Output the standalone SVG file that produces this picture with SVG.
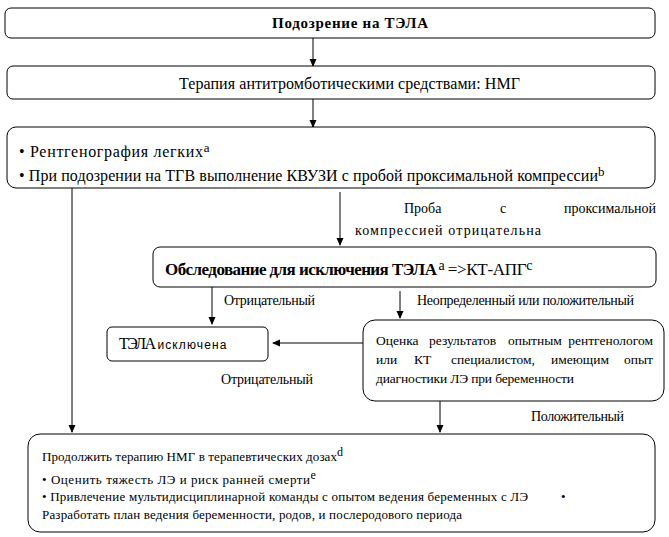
<svg xmlns="http://www.w3.org/2000/svg" width="669" height="537" viewBox="0 0 669 537">
<style>
.b{fill:#fff;stroke:#000;stroke-width:1}
.c{stroke:#000;stroke-width:1;fill:none}
</style>
<defs>
<marker id="ah" markerWidth="8" markerHeight="8" refX="7" refY="4" orient="auto" markerUnits="userSpaceOnUse">
<path d="M0,0.5 L8,4 L0,7.5 Z" fill="#000"/>
</marker>
</defs>
<rect width="669" height="537" fill="#fff"/>
<g id="connectors">
<line class="c" x1="313" y1="38" x2="313" y2="66" marker-end="url(#ah)"/>
<line class="c" x1="313" y1="99" x2="313" y2="127" marker-end="url(#ah)"/>
<line class="c" x1="72" y1="188" x2="72" y2="432" marker-end="url(#ah)"/>
<line class="c" x1="340" y1="192" x2="340" y2="245" marker-end="url(#ah)"/>
<line class="c" x1="212" y1="287" x2="212" y2="324" marker-end="url(#ah)"/>
<line class="c" x1="400" y1="291" x2="400" y2="318" marker-end="url(#ah)"/>
<line class="c" x1="363" y1="343" x2="273" y2="343" marker-end="url(#ah)"/>
<line class="c" x1="440" y1="401" x2="440" y2="432" marker-end="url(#ah)"/>
<g font-family="Liberation Serif" font-size="14" fill="#000">
<text><tspan x="404" y="213">Проба</tspan><tspan x="500" y="213">с</tspan><tspan x="656" y="213" text-anchor="end">проксимальной</tspan></text>
<text x="355" y="235" textLength="186">компрессией отрицательна</text>
<text x="224" y="305" textLength="91">Отрицательный</text>
<text x="417" y="305" textLength="217">Неопределенный или положительный</text>
<text x="221" y="384" textLength="92">Отрицательный</text>
<text x="531" y="421" textLength="93">Положительный</text>
</g>
</g>
<g id="n1">
<rect class="b" x="5" y="8" width="650" height="30" rx="6"/>
<text font-family="Liberation Serif" font-size="15" font-weight="bold" x="272" y="28" textLength="156">Подозрение на ТЭЛА</text>
</g>
<g id="n2">
<rect class="b" x="7" y="66" width="648" height="33" rx="6"/>
<text font-family="Liberation Serif" font-size="16" x="179" y="89" textLength="341">Терапия антитромботическими средствами: НМГ</text>
</g>
<g id="n3" font-family="Liberation Serif" font-size="16">
<rect class="b" x="7" y="127" width="648" height="61" rx="9"/>
<text x="19" y="157"><tspan textLength="184">• Рентгенография легких</tspan><tspan font-size="13" dy="-5">a</tspan></text>
<text x="19" y="181"><tspan textLength="579">• При подозрении на ТГВ выполнение КВУЗИ с пробой проксимальной компрессии</tspan><tspan font-size="13" dy="-5">b</tspan></text>
</g>
<g id="n4" font-family="Liberation Serif" font-size="17">
<rect class="b" x="153" y="247" width="503" height="40" rx="7"/>
<text x="165" y="275"><tspan font-weight="bold" textLength="272">Обследование для исключения ТЭЛА</tspan><tspan font-size="14" dy="-5" dx="2">a</tspan><tspan dy="5" dx="3" textLength="79">=&gt;КТ-АПГ</tspan><tspan font-size="14" dy="-5">c</tspan></text>
</g>
<g id="n5">
<rect class="b" x="107" y="327" width="161" height="34" rx="5"/>
<text font-family="Liberation Serif" font-size="16" x="119" y="349"><tspan textLength="37">ТЭЛА</tspan><tspan font-family="Liberation Sans" font-size="12" dx="3" textLength="69">исключена</tspan></text>
</g>
<g id="n6" font-family="Liberation Serif" font-size="13.5">
<rect class="b" x="363" y="320" width="301" height="81" rx="12"/>
<text><tspan x="376" y="345">Оценка</tspan><tspan x="429" y="345">результатов</tspan><tspan x="508" y="345">опытным</tspan><tspan x="653" y="345" text-anchor="end">рентгенологом</tspan></text>
<text><tspan x="376" y="364">или</tspan><tspan x="414" y="364">КТ</tspan><tspan x="451" y="364">специалистом,</tspan><tspan x="551" y="364">имеющим</tspan><tspan x="653" y="364" text-anchor="end">опыт</tspan></text>
<text x="376" y="383" textLength="198">диагностики ЛЭ при беременности</text>
</g>
<g id="n7" font-family="Liberation Serif" font-size="13">
<rect class="b" x="28" y="434" width="627" height="98" rx="12"/>
<text x="42" y="461"><tspan textLength="295">Продолжить терапию НМГ в терапевтических дозах</tspan><tspan font-size="12" dy="-5">d</tspan></text>
<text x="42" y="484"><tspan textLength="268">• Оценить тяжесть ЛЭ и риск ранней смерти</tspan><tspan font-size="12" dy="-5">e</tspan></text>
<text x="42" y="501" textLength="486">• Привлечение мультидисциплинарной команды с опытом ведения беременных с ЛЭ</text>
<text x="561" y="501">•</text>
<text x="42" y="519" textLength="420">Разработать план ведения беременности, родов, и послеродового периода</text>
</g>
</svg>
